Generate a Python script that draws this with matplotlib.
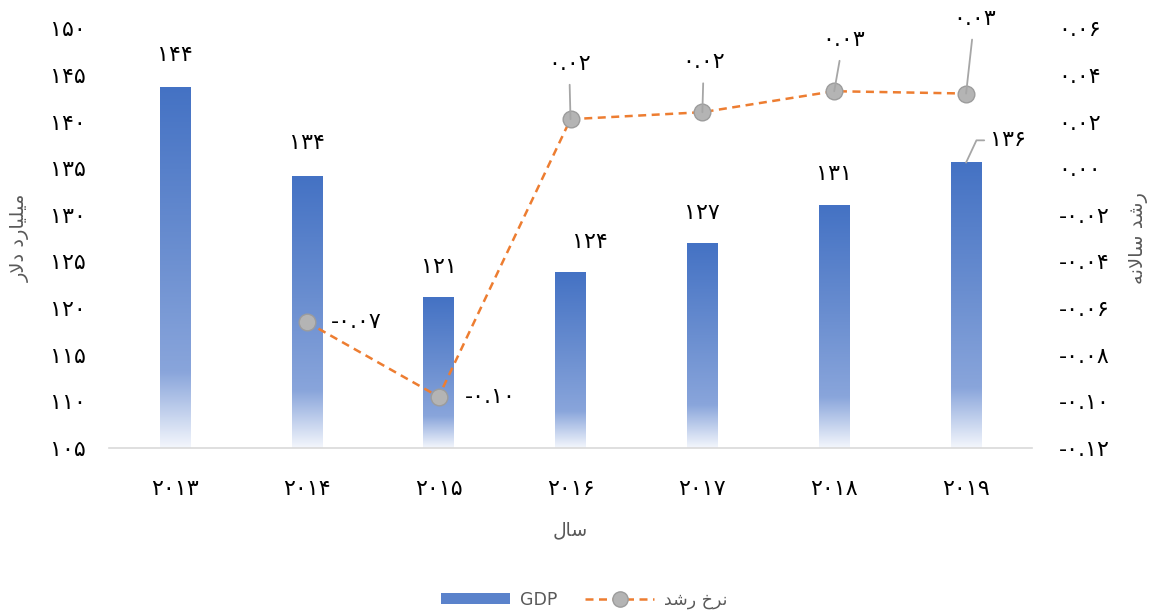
import numpy as np
import matplotlib.pyplot as plt
from matplotlib.colors import LinearSegmentedColormap
from matplotlib.patches import Patch
from matplotlib.lines import Line2D
from matplotlib.ticker import FuncFormatter

# data
years = [2013, 2014, 2015, 2016, 2017, 2018, 2019]
gdp = [143.6, 134.1, 121.1, 123.8, 126.9, 131.0, 135.6]          # billion USD
growth = [np.nan, -0.066, -0.098, 0.021, 0.024, 0.033, 0.032]    # annual growth

# Persian text, pre-shaped (presentation forms, visual order) since matplotlib has no bidi
label_gdp_axis = "\uFEAD\uFEFB\uFEA9 \uFEA9\uFEAD\uFE8E\uFEF4\uFEE0\uFEF4\uFEE3"    # میلیارد دلار
label_growth_axis = "\uFEEA\uFEE7\uFEFB\uFE8E\uFEB3 \uFEAA\uFEB7\uFEAD"            # رشد سالانه
label_year = "\uFEDD\uFE8E\uFEB3"                                                  # سال
label_growth = "\uFEAA\uFEB7\uFEAD \uFEA5\uFEAE\uFEE7"                             # نرخ رشد

FA = str.maketrans('0123456789', '\u06F0\u06F1\u06F2\u06F3\u06F4\u06F5\u06F6\u06F7\u06F8\u06F9')


def fa(s):
    return s.translate(FA)


def fa_dec(v, pos=None):
    if abs(v) < 1e-9:
        v = 0.0
    return fa(f"{v:.2f}")


plt.rcParams['font.family'] = ['DejaVu Sans']
NUM_SIZE = 16

fig = plt.figure(figsize=(11.5, 6.14), dpi=100)
ax = fig.add_axes([0.0948, 0.2704, 0.8026, 0.6836])
x = np.arange(len(years))

ymin, ymax = 105, 150
bars = ax.bar(x, gdp, width=0.23, facecolor='none', edgecolor='none')

# vertical gradient in each bar: blue on top, fading to white at the bottom
cmap = LinearSegmentedColormap.from_list(
    'bar', [(0.0, '#f3f6fc'), (0.21, '#89a5db'), (0.55, '#6a8ed0'), (1.0, '#4472c4')])
grad = np.linspace(0, 1, 256).reshape(-1, 1)
for b in bars:
    x0 = b.get_x()
    ax.imshow(grad, extent=[x0, x0 + b.get_width(), ymin, b.get_height()],
              origin='lower', cmap=cmap, aspect='auto', zorder=2, interpolation='bicubic')

ax.set_xlim(-0.5, len(years) - 0.5)
ax.set_ylim(ymin, ymax)
ax.set_yticks(np.arange(105, 151, 5))
ax.yaxis.set_major_formatter(FuncFormatter(lambda v, p: fa(f"{v:.0f}")))
ax.set_xticks(x)
ax.set_xticklabels([fa(str(y)) for y in years])
ax.tick_params(axis='both', length=0, labelsize=NUM_SIZE, colors='black')
ax.tick_params(axis='y', pad=17)
ax.tick_params(axis='x', pad=22)
for s in ['top', 'left', 'right']:
    ax.spines[s].set_visible(False)
ax.spines['bottom'].set_color('#d9d9d9')
ax.spines['bottom'].set_linewidth(1.2)
ax.set_ylabel(label_gdp_axis, color='#595959', fontsize=14, labelpad=14)
ax.set_xlabel(label_year, color='#595959', fontsize=13.5, labelpad=16)

# bar value labels
bar_offsets = [(0, 24), (0, 24), (0, 22), (14, 22), (0, 22), (0, 23), (30, 16)]
for i, (xi, v) in enumerate(zip(x, gdp)):
    dx, dy = bar_offsets[i]
    arrow = None
    if i == len(gdp) - 1:
        arrow = dict(arrowstyle='-', color='#a6a6a6', lw=1.3, shrinkA=2, shrinkB=0,
                     relpos=(0, 0.5), connectionstyle='angle,angleA=0,angleB=65,rad=0')
    ax.annotate(fa(f"{v:.0f}"), (xi, v), xytext=(dx, dy), textcoords='offset points',
                ha='center', va='center', fontsize=NUM_SIZE, color='black', arrowprops=arrow)

# growth line on secondary axis
ax2 = ax.twinx()
ax2.plot(x, growth, color='#ed7d31', lw=1.8, ls=(0, (3.2, 2.2)), marker='o', ms=12,
         mfc='#b4b4b4', mec='#9c9c9c', mew=1, zorder=3)
ax2.set_ylim(-0.12, 0.06)
ax2.set_yticks(np.arange(-0.12, 0.0601, 0.02))
ax2.yaxis.set_major_formatter(FuncFormatter(fa_dec))
ax2.tick_params(axis='y', length=0, labelsize=NUM_SIZE, colors='black', pad=19)
for s in ax2.spines.values():
    s.set_visible(False)
ax2.set_ylabel(label_growth_axis, color='#595959', fontsize=14, labelpad=14, rotation=90)

growth_offsets = [None, (17, 0), (19, 0), (-1, 40), (1, 36), (6.5, 37), (6, 54)]
for i, (xi, v) in enumerate(zip(x, growth)):
    if np.isnan(v):
        continue
    dx, dy = growth_offsets[i]
    if dy == 0:
        ax2.annotate(fa_dec(v), (xi, v), xytext=(dx, dy), textcoords='offset points',
                     ha='left', va='center', fontsize=NUM_SIZE, color='black')
    else:
        ax2.annotate(fa_dec(v), (xi, v), xytext=(dx, dy), textcoords='offset points',
                     ha='center', va='center', fontsize=NUM_SIZE, color='black',
                     arrowprops=dict(arrowstyle='-', color='#a6a6a6', lw=1.3,
                                     shrinkA=6, shrinkB=0))

handles = [Patch(facecolor='#5a82cb', edgecolor='none'),
           Line2D([], [], color='#ed7d31', lw=1.8, ls=(0, (3.2, 2.2)), marker='o', ms=11,
                  mfc='#b4b4b4', mec='#9c9c9c')]
fig.legend(handles, ['GDP', label_growth], loc='center', bbox_to_anchor=(0.508, 0.023),
           ncol=2, frameon=False, fontsize=12.5, handlelength=4, handleheight=0.6,
           handletextpad=0.55, columnspacing=1.6, labelcolor='#595959')

fig.savefig('out.png', dpi=100)
